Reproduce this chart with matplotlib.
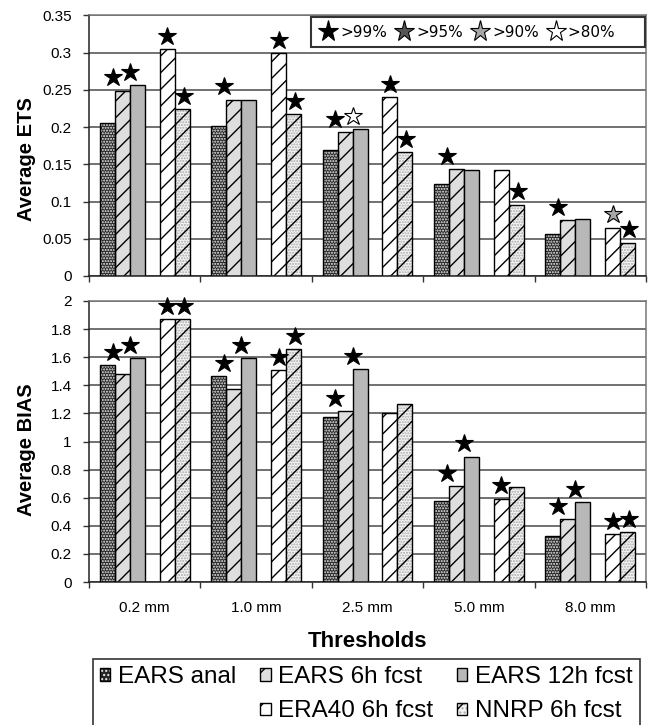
import matplotlib
matplotlib.use("Agg")
import matplotlib.pyplot as plt
import numpy as np
from matplotlib.patches import Patch
from matplotlib.lines import Line2D
from matplotlib.transforms import offset_copy
from matplotlib.ticker import FuncFormatter, FixedLocator

plt.rcParams['font.family'] = ['Liberation Sans', 'DejaVu Sans']
plt.rcParams['hatch.linewidth'] = 1.0

# ---------------- data ----------------
thresholds = ["0.2 mm", "1.0 mm", "2.5 mm", "5.0 mm", "8.0 mm"]
series = ["EARS anal", "EARS 6h fcst", "EARS 12h fcst", "ERA40 6h fcst", "NNRP 6h fcst"]

ets_ears_anal = [0.206, 0.201, 0.169, 0.124, 0.056]
ets_ears_6h = [0.249, 0.237, 0.193, 0.144, 0.075]
ets_ears_12h = [0.257, 0.237, 0.197, 0.143, 0.077]
ets_era40_6h = [0.305, 0.300, 0.240, 0.142, 0.065]
ets_nnrp_6h = [0.224, 0.218, 0.166, 0.096, 0.045]

bias_ears_anal = [1.544, 1.464, 1.177, 0.574, 0.330]
bias_ears_6h = [1.478, 1.374, 1.219, 0.683, 0.446]
bias_ears_12h = [1.592, 1.592, 1.518, 0.892, 0.567]
bias_era40_6h = [1.870, 1.509, 1.205, 0.593, 0.339]
bias_nnrp_6h = [1.872, 1.656, 1.265, 0.674, 0.354]

# significance levels (0 = not significant)
ets_sig_ears_6h = [99, 99, 99, 99, 99]
ets_sig_ears_12h = [99, 0, 80, 0, 0]
ets_sig_era40_6h = [99, 99, 99, 0, 90]
ets_sig_nnrp_6h = [99, 99, 99, 99, 99]

bias_sig_ears_6h = [99, 99, 99, 99, 99]
bias_sig_ears_12h = [99, 99, 99, 99, 99]
bias_sig_era40_6h = [99, 99, 0, 99, 99]
bias_sig_nnrp_6h = [99, 99, 0, 0, 99]

sig_levels = [99, 95, 90, 80]
sig_labels = [">99%", ">95%", ">90%", ">80%"]

# ---------------- style ----------------
star_face = {99: "black", 95: "#555555", 90: "#a6a6a6", 80: "white"}
W = 0.1344               # bar width (category width = 1)
grid_c = "#4a4a4a"
DOTS_DARK = '......'
DIAG = '//'

fig = plt.figure(figsize=(6.49, 7.25), dpi=100)
ax1 = fig.add_axes([89 / 649, 1 - 276 / 725, 557 / 649, 260.5 / 725])
ax2 = fig.add_axes([89 / 649, 1 - 582 / 725, 557 / 649, 281 / 725])

x = np.arange(len(thresholds))


def slot_left(k):
    return x - 3 * W + k * W


def draw_panel(ax, vals, sigs, ymax, ystep):
    anal, e6, e12, era, nnrp = vals
    # bars
    ax.bar(slot_left(0), anal, W, align='edge', facecolor='#262626',
           edgecolor='#f0f0f0', hatch=DOTS_DARK, linewidth=0, zorder=2)
    ax.bar(slot_left(0), anal, W, align='edge', facecolor='none',
           edgecolor='black', linewidth=1.0, zorder=3)
    ax.bar(slot_left(1), e6, W, align='edge', facecolor='#dedede',
           edgecolor='black', hatch=DIAG, linewidth=1.0, zorder=2)
    ax.bar(slot_left(2), e12, W, align='edge', facecolor='#b8b8b8',
           edgecolor='black', linewidth=1.0, zorder=2)
    ax.bar(slot_left(4), era, W, align='edge', facecolor='white',
           edgecolor='black', hatch=DIAG, linewidth=1.0, zorder=2)
    ax.bar(slot_left(5), nnrp, W, align='edge', facecolor='#f4f4f4',
           edgecolor='#a8a8a8', hatch='......', linewidth=0, zorder=2)
    ax.bar(slot_left(5), nnrp, W, align='edge', facecolor='none',
           edgecolor='black', hatch=DIAG, linewidth=1.0, zorder=3)

    # stars
    tr = offset_copy(ax.transData, fig=fig, y=9.5, units='points')
    s6, s12, sera, snnrp = sigs
    star_specs = [
        (slot_left(1) - 0.15 * W, np.maximum(anal, e6), s6),
        (slot_left(2) + 0.0 * W, np.maximum(e6, e12), s12),
        (slot_left(4) + 0.5 * W, np.asarray(era), sera),
        (slot_left(5) + 0.6 * W, np.asarray(nnrp), snnrp),
    ]
    for xs, ys, ss in star_specs:
        for xi, yi, si in zip(xs, ys, ss):
            if si:
                ax.plot(xi, yi, marker='*', markersize=13.5, color=star_face[si],
                        markeredgecolor='black', markeredgewidth=0.8,
                        transform=tr, zorder=5, clip_on=False)

    ax.set_xlim(-0.5, len(thresholds) - 0.5)
    ax.set_ylim(0, ymax)
    ax.set_yticks(np.arange(0, ymax + ystep / 2, ystep))
    ax.yaxis.set_major_formatter(FuncFormatter(lambda v, p: f"{v:g}"))
    ax.grid(axis='y', color=grid_c, linewidth=1.1)
    ax.set_axisbelow(True)
    ax.xaxis.set_major_locator(FixedLocator(np.arange(-0.5, len(thresholds), 1.0)))
    ax.tick_params(axis='x', which='major', direction='out', length=4,
                   width=1.0, color='#333333', labelbottom=False)
    ax.tick_params(axis='y', direction='out', length=4.5, width=1.0,
                   color='#333333', labelsize=11, pad=8)
    for side in ['left', 'bottom']:
        ax.spines[side].set_color('#222222')
        ax.spines[side].set_linewidth(1.1)
    for side in ['right', 'top']:
        ax.spines[side].set_color('#777777')
        ax.spines[side].set_linewidth(1.1)


draw_panel(ax1,
           [ets_ears_anal, ets_ears_6h, ets_ears_12h, ets_era40_6h, ets_nnrp_6h],
           [ets_sig_ears_6h, ets_sig_ears_12h, ets_sig_era40_6h, ets_sig_nnrp_6h],
           0.35, 0.05)
draw_panel(ax2,
           [bias_ears_anal, bias_ears_6h, bias_ears_12h, bias_era40_6h, bias_nnrp_6h],
           [bias_sig_ears_6h, bias_sig_ears_12h, bias_sig_era40_6h, bias_sig_nnrp_6h],
           2.0, 0.2)

ax2.set_xticks(x, minor=True)
ax2.set_xticklabels(thresholds, minor=True)
ax2.tick_params(axis='x', which='minor', length=0, labelsize=11, pad=13.5)

fig.text(27 / 649, 1 - 159 / 725, "Average ETS", rotation=90, ha='center',
         va='center', fontsize=14.5, fontweight='bold')
fig.text(27 / 649, 1 - 450 / 725, "Average BIAS", rotation=90, ha='center',
         va='center', fontsize=14.5, fontweight='bold')
fig.text(368 / 649, 1 - 641.5 / 725, "Thresholds", ha='center', va='center',
         fontsize=16, fontweight='bold')

# significance legend
sig_handles = [Line2D([], [], linestyle='none', marker='*', markersize=15.5,
                      color=star_face[s], markeredgecolor='black',
                      markeredgewidth=0.8) for s in sig_levels]
leg1 = ax1.legend(sig_handles, sig_labels, loc='upper right',
                  bbox_to_anchor=(645 / 649, 1 - 17 / 725),
                  bbox_transform=fig.transFigure, ncol=4, fancybox=False,
                  framealpha=1, edgecolor='#333333', borderaxespad=0,
                  handlelength=1.3, handletextpad=0.15, columnspacing=0.45,
                  borderpad=0.5, prop={'family': 'DejaVu Sans', 'size': 11})
leg1.get_frame().set_linewidth(1.5)
# extra empty room on the right of the frame, as in the original
leg1.get_texts()[-1].set_text(">80%" + "\u2003\u2002")

# series legend
anal_handle = (Patch(facecolor='#262626', edgecolor='#f0f0f0', hatch='....', linewidth=0),
               Patch(facecolor='none', edgecolor='black', linewidth=1.0))
nnrp_handle = (Patch(facecolor='#f4f4f4', edgecolor='#a8a8a8', hatch='....', linewidth=0),
               Patch(facecolor='none', edgecolor='black', hatch='/', linewidth=1.0))
ser_handles = [
    anal_handle,
    Patch(facecolor='none', edgecolor='none', linewidth=0),
    Patch(facecolor='#dedede', edgecolor='black', hatch='/', linewidth=1.0),
    Patch(facecolor='white', edgecolor='black', hatch='/', linewidth=1.0),
    Patch(facecolor='#b8b8b8', edgecolor='black', linewidth=1.0),
    nnrp_handle,
]
ser_labels = [series[0], "", series[1], series[3], series[2], series[4]]
leg2 = fig.legend(ser_handles, ser_labels, loc='upper left',
                  bbox_to_anchor=(93 / 649, 1 - 659 / 725), ncol=3,
                  fancybox=False, framealpha=1, edgecolor='#333333',
                  borderaxespad=0, handlelength=0.42, handleheight=0.4,
                  handletextpad=0.3, columnspacing=1.0, labelspacing=0.5,
                  borderpad=0.3, fontsize=17.5)
leg2.get_frame().set_linewidth(1.2)

fig.savefig("out.png", dpi=100)
